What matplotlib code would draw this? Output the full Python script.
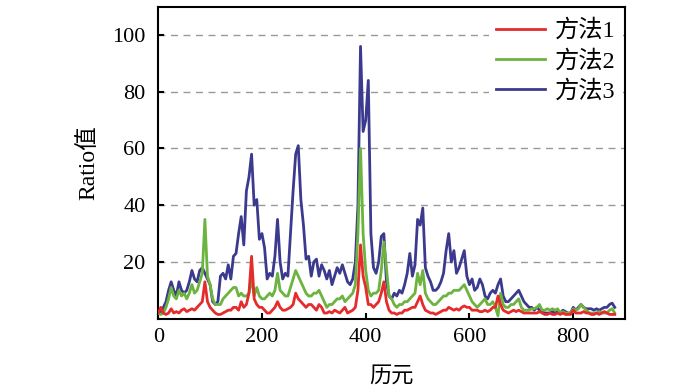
import numpy as np
import matplotlib
matplotlib.use("Agg")
import matplotlib.pyplot as plt

plt.rcParams['font.family'] = ['Liberation Serif', 'Noto Sans CJK SC', 'DejaVu Sans']

# epochs sampled every 5
epochs = np.arange(0, 885, 5)

method1 = [
    2, 4, 2, 1.5, 2, 3.5, 2, 2.5, 2, 3, 3.5, 2.5, 3, 3.5, 3, 4, 5, 6, 13, 6,
    4, 3, 2, 1.5, 1.5, 2, 2.5, 3, 3, 4, 4, 3, 6, 4, 5, 9, 22, 7, 5, 4,
    4, 3, 2, 2, 3, 4, 6, 4, 3, 3, 3.5, 4, 5, 9, 7, 6, 5, 4, 5, 5,
    4, 3, 5, 4, 2, 2, 2.5, 2, 3, 2.5, 2, 3, 4, 2, 2.5, 3, 4, 10, 26, 15,
    11, 5, 5, 4, 5, 6, 9, 13, 6, 3, 2, 2, 1.5, 2, 2, 3, 3, 3.5, 4, 4,
    6, 8, 5, 3, 2.5, 2, 2, 1.5, 2, 2.5, 3, 3, 4, 3.5, 3, 3.5, 3, 4, 4.5, 4,
    4, 3, 3, 3, 2.5, 2.5, 3, 2.5, 3, 4, 4, 8, 5, 3, 2.5, 2, 2.5, 3, 2.5, 3,
    2.5, 2, 2, 2, 2, 2, 2, 2.5, 2, 1.5, 1.5, 2, 1.5, 1.5, 2, 1.5, 2, 1.5, 1.5, 1.5,
    3, 2, 2, 2, 2.5, 2, 2, 1.5, 1.5, 2, 1.5, 2, 2.5, 2, 1.5, 1.5, 1.5,
]

method2 = [
    2, 1.5, 2, 4, 7, 11, 8, 7, 10, 8, 9, 7, 9, 12, 9, 10, 13, 16, 35, 15,
    12, 7, 5, 5, 5, 7, 8, 9, 10, 11, 11, 8, 9, 8, 8, 9, 14, 8, 11, 8,
    7, 7, 8, 9, 8, 10, 16, 10, 9, 8, 8, 11, 14, 17, 15, 13, 11, 9, 8, 8,
    9, 9, 10, 8, 6, 4, 5, 5, 6, 7, 7, 8, 6, 7, 8, 9, 12, 30, 60, 30,
    17, 10, 8, 9, 9, 10, 17, 27, 18, 8, 7, 5, 4, 5, 5, 6, 6, 7, 8, 9,
    16, 12, 17, 9, 7, 6, 5, 5, 6, 7, 8, 8, 9, 9, 10, 10, 10, 11, 12, 10,
    8, 6, 5, 4, 5, 6, 7, 5, 5, 6, 4, 1, 9, 5, 4, 4, 5, 5, 6, 7,
    4, 3, 3, 3, 3.5, 3.5, 4, 5, 3, 3, 3.5, 3, 3.5, 3, 3.5, 2, 2.5, 2, 2, 2,
    3.5, 3, 3.5, 5, 4, 3, 2, 2, 2, 2, 2.5, 2, 2, 2, 3, 3.5, 2,
]

method3 = [
    3, 2, 4, 6, 10, 13, 10, 8, 13, 10, 9, 10, 13, 17, 14, 13, 17, 18, 16, 14,
    12, 6, 5, 6, 15, 16, 14, 19, 14, 22, 23, 30, 36, 26, 45, 50, 58, 40, 42, 28,
    30, 25, 14, 16, 15, 22, 35, 20, 14, 16, 15, 30, 45, 58, 61, 42, 33, 21, 22, 15,
    20, 21, 15, 19, 17, 14, 17, 12, 15, 18, 16, 19, 16, 13, 12, 14, 20, 40, 96, 66,
    70, 84, 30, 18, 16, 20, 29, 30, 13, 8, 7, 9, 8, 10, 9, 12, 16, 23, 15, 19,
    35, 33, 39, 18, 15, 13, 10, 10, 11, 13, 16, 24, 30, 20, 24, 16, 18, 21, 24, 15,
    12, 14, 10, 11, 14, 12, 8, 7, 9, 10, 9, 12, 14, 8, 6, 6, 7, 8, 9, 10,
    8, 6, 5, 4, 4, 3, 4, 3, 2.5, 2, 2, 2, 2.5, 2, 2.5, 2, 3, 2.5, 2, 2,
    4, 3, 4, 5, 4, 3.5, 3.5, 3.5, 3, 3.5, 3, 3.5, 4, 4, 5, 5.5, 4,
]

labels = ['方法1', '方法2', '方法3']
colors = ['#e52b2b', '#6cb33f', '#3b3a8e']

fig = plt.figure(figsize=(7, 3.92), dpi=100)
ax = fig.add_axes([0.226, 0.187, 0.667, 0.796])

series = [method1, method2, method3]
for i, (vals, lab, c) in enumerate(zip(series, labels, colors)):
    ax.plot(epochs, vals, color=c, lw=2.0, label=lab, zorder=4 - i)

ax.set_xlim(0, 900)
ax.set_ylim(0, 110)
ax.set_xticks([0, 200, 400, 600, 800])
ax.set_yticks([20, 40, 60, 80, 100])
for y in [20, 40, 60, 80, 100]:
    ax.axhline(y, color='#999999', lw=1.0, ls=(0, (5, 4)), zorder=0)

ax.tick_params(direction='in', labelsize=16, width=1.5, length=4)
ax.tick_params(axis='y', pad=9)
ax.tick_params(axis='x', pad=7)
for s in ax.spines.values():
    s.set_linewidth(1.5)

ax.set_xlabel('历元', fontsize=16, labelpad=14)
ax.set_ylabel('Ratio值', fontsize=17, labelpad=9)

leg = ax.legend(loc='upper right', bbox_to_anchor=(1.0, 0.99), fontsize=17.5,
                frameon=True, handlelength=2.0, labelspacing=0.32,
                borderpad=0.3, handletextpad=0.4, borderaxespad=0.1)
leg.get_frame().set_facecolor('white')
leg.get_frame().set_linewidth(0)
leg.get_frame().set_alpha(1)

fig.savefig('out.png', dpi=100)
